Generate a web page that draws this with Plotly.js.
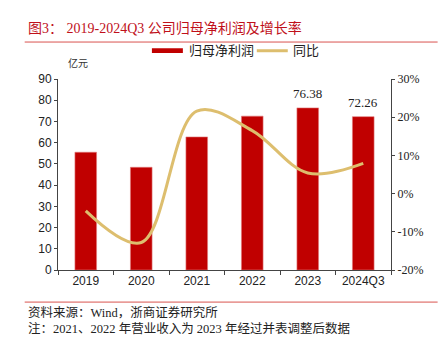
<!DOCTYPE html>
<html>
<head>
<meta charset="utf-8">
<script src="https://cdn.plot.ly/plotly-3.0.1.min.js"></script>
<style>
html,body{margin:0;padding:0;background:#fff;}
#chart{width:439px;height:361px;}
</style>
</head>
<body>
<div id="chart"></div>
<script>
const categories = ['2019', '2020', '2021', '2022', '2023', '2024Q3'];
const netProfit = [55.5, 48.4, 62.7, 72.5, 76.38, 72.26];
const yoyGrowth = [-4.5, -12.8, 21.6, 16.5, 5.4, 7.9];
const labelledBars = ['2023', '2024Q3'];
const leftTicks = [0, 10, 20, 30, 40, 50, 60, 70, 80, 90];
const rightTicks = [-20, -10, 0, 10, 20, 30];
const rightTickLabels = ['-20%', '-10%', '0%', '10%', '20%', '30%'];

const serif = '"Liberation Serif", "Noto Sans CJK SC", serif';
const sans = '"Liberation Sans", Arial, "Noto Sans CJK SC", sans-serif';
const cjk = '"Liberation Serif", "Noto Sans CJK SC", serif';

const barTrace = {
  type: 'bar',
  name: '归母净利润',
  x: categories,
  y: netProfit,
  marker: {color: '#C00000', line: {color: '#E07A7A', width: 0.6}},
  width: 0.39,
  yaxis: 'y',
  showlegend: false,
  hoverinfo: 'x+y'
};
const lineTrace = {
  type: 'scatter',
  mode: 'lines',
  name: '同比',
  x: categories,
  y: yoyGrowth,
  line: {color: '#DDBE6E', width: 3, shape: 'spline', smoothing: 1.0},
  yaxis: 'y2',
  showlegend: false
};

const annotations = [
  {xref: 'paper', yref: 'paper', x: -0.095, y: 1.265, xanchor: 'left', yanchor: 'middle',
   text: '图3： 2019-2024Q3 公司归母净利润及增长率', showarrow: false,
   font: {family: cjk, size: 14, color: '#C0101A'}},
  {xref: 'paper', yref: 'paper', x: 0.023, y: 1.085, xanchor: 'left', yanchor: 'middle',
   text: '亿元', showarrow: false, font: {family: cjk, size: 10, color: '#333'}},
  {xref: 'paper', yref: 'paper', x: 0.388, y: 1.148, xanchor: 'left', yanchor: 'middle',
   text: '归母净利润', showarrow: false, font: {family: sans, size: 13, color: '#222'}},
  {xref: 'paper', yref: 'paper', x: 0.70, y: 1.148, xanchor: 'left', yanchor: 'middle',
   text: '同比', showarrow: false, font: {family: sans, size: 13, color: '#222'}},
  {xref: 'paper', yref: 'paper', x: -0.095, y: -0.220, xanchor: 'left', yanchor: 'middle',
   text: '资料来源：Wind，浙商证券研究所', showarrow: false, font: {family: cjk, size: 12.5, color: '#222'}},
  {xref: 'paper', yref: 'paper', x: -0.095, y: -0.305, xanchor: 'left', yanchor: 'middle',
   text: '注：2021、2022 年营业收入为 2023 年经过并表调整后数据', showarrow: false, font: {family: cjk, size: 12.5, color: '#222'}}
];
categories.forEach((c, i) => {
  if (labelledBars.includes(c)) {
    annotations.push({x: i, y: netProfit[i], xref: 'x', yref: 'y', yanchor: 'bottom',
      yshift: 5, text: netProfit[i].toFixed(2), showarrow: false,
      font: {family: serif, size: 13, color: '#222'}});
  }
});

const shapes = [
  {type: 'line', xref: 'paper', yref: 'paper', x0: -0.1, x1: 1.14, y0: 1.1935, y1: 1.1935, line: {color: '#D9534F', width: 1}},
  {type: 'line', xref: 'paper', yref: 'paper', x0: -0.1, x1: 1.14, y0: -0.168, y1: -0.168, line: {color: '#D9534F', width: 1}},
  {type: 'rect', xref: 'paper', yref: 'paper', x0: 0.282, x1: 0.375, y0: 1.136, y1: 1.161, fillcolor: '#C00000', line: {width: 0}},
  {type: 'line', xref: 'paper', yref: 'paper', x0: 0.597, x1: 0.690, y0: 1.148, y1: 1.148, line: {color: '#DDBE6E', width: 3}}
];

const layout = {
  width: 439, height: 361,
  margin: {l: 58, r: 48, t: 79, b: 91, pad: 0},
  paper_bgcolor: '#fff', plot_bgcolor: '#fff',
  showlegend: false,
  bargap: 0.6,
  xaxis: {
    type: 'category', range: [-0.5, 5.5], showgrid: false, zeroline: false,
    showline: true, linecolor: '#444', linewidth: 1,
    ticks: 'outside', tickson: 'boundaries', ticklen: 4, tickcolor: '#444',
    tickfont: {family: sans, size: 12, color: '#222'}
  },
  yaxis: {
    range: [0, 90], tickvals: leftTicks, showgrid: false, zeroline: false,
    showline: true, linecolor: '#444', linewidth: 1,
    ticks: 'outside', ticklen: 3, tickcolor: '#444',
    tickfont: {family: sans, size: 12, color: '#222'}
  },
  yaxis2: {
    overlaying: 'y', side: 'right', range: [-20, 30],
    tickvals: rightTicks, ticktext: rightTickLabels,
    showgrid: false, zeroline: false,
    showline: true, linecolor: '#444', linewidth: 1,
    ticks: 'outside', ticklen: 3, tickcolor: '#444',
    tickfont: {family: serif, size: 12, color: '#222'}
  },
  annotations: annotations,
  shapes: shapes
};

Plotly.newPlot('chart', [barTrace, lineTrace], layout, {displayModeBar: false, staticPlot: true});
</script>
</body>
</html>
